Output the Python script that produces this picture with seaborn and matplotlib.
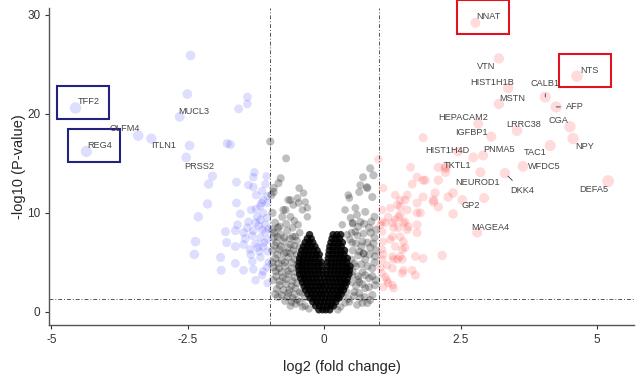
import matplotlib
matplotlib.use('Agg')
import matplotlib.pyplot as plt
import matplotlib.patches as mpatches
import numpy as np
import pandas as pd
import seaborn as sns

# labelled genes (log2 fold change, -log10 p)
down_genes = ['TFF2', 'REG4', 'OLFM4', 'ITLN1', 'MUCL3', 'PRSS2']
down_lfc = [-4.56, -4.36, -3.41, -3.17, -2.65, -2.53]
down_logp = [20.6, 16.2, 17.8, 17.5, 19.7, 15.6]

up_genes = ['NNAT', 'VTN', 'HIST1H1B', 'MSTN', 'CALB1', 'NTS', 'AFP', 'CGA',
            'LRRC38', 'HEPACAM2', 'IGFBP1', 'HIST1H4D', 'PNMA5', 'TAC1', 'NPY',
            'WFDC5', 'TKTL1', 'NEUROD1', 'DKK4', 'DEFA5', 'GP2', 'MAGEA4']
up_lfc = [2.77, 3.20, 3.37, 3.20, 4.05, 4.63, 4.25, 4.50,
          3.53, 2.82, 3.06, 2.45, 2.91, 4.14, 4.56,
          3.64, 2.23, 2.86, 3.31, 5.20, 2.93, 2.80]
up_logp = [29.2, 25.6, 22.6, 21.0, 21.7, 23.8, 20.7, 18.7,
           18.3, 19.0, 17.7, 16.2, 15.8, 16.8, 17.5,
           14.7, 14.7, 14.1, 14.0, 13.2, 11.5, 8.0]

# where the labels sit (data coords)
down_text = [(-4.32, 21.2), (-4.12, 16.8), (-3.66, 18.5), (-2.95, 16.8),
             (-2.40, 20.2), (-2.29, 14.7)]
up_text = [(3.00, 29.8), (2.97, 24.8), (3.08, 23.2), (3.44, 21.6), (4.05, 23.1),
           (4.85, 24.4), (4.60, 20.7), (4.30, 19.3), (3.66, 18.9), (2.55, 19.6),
           (2.69, 18.1), (2.25, 16.3), (3.21, 16.4), (3.86, 16.1), (4.78, 16.7),
           (4.03, 14.7), (2.44, 14.8), (2.80, 13.1), (3.63, 12.3), (4.93, 12.4),
           (2.69, 10.7), (3.04, 8.5)]
with_segment = ['CALB1', 'AFP', 'DKK4']
boxed = {'TFF2': 'navy', 'REG4': 'navy', 'NNAT': 'red', 'NTS': 'red'}

# other significant down genes
blue_lfc = [-2.45, -2.51, -1.41, -1.41, -1.57, -1.78, -1.72, -2.47,
            -2.05, -2.12, -1.61, -1.28, -1.30, -1.06, -1.39, -1.30, -1.14, -1.25,
            -1.04, -1.12, -2.14, -1.61, -1.17, -1.04, -1.34, -1.25, -1.54, -1.12,
            -2.31, -1.23, -1.17, -1.39, -1.26, -1.59, -1.08, -1.41, -1.30, -1.14,
            -1.81, -1.63, -1.48, -1.08, -1.32, -1.17, -1.03, -2.36, -1.79, -1.48,
            -1.26, -1.12, -1.63, -1.36, -1.19, -1.04, -2.38, -1.90, -1.63, -1.17,
            -1.32, -1.89, -1.48, -1.30, -1.14, -1.26, -1.04, -1.12,
            -1.05, -1.10, -1.02, -1.20, -1.15, -1.08, -1.02, -1.22, -1.05, -1.35, -1.45]
blue_logp = [25.9, 22.0, 21.7, 21.0, 20.5, 17.0, 16.9, 16.8,
             13.7, 12.9, 13.1, 14.1, 13.6, 13.7, 12.8, 12.6, 12.2, 11.8,
             11.7, 11.3, 10.9, 11.0, 10.7, 11.0, 10.3, 10.4, 9.9, 10.0,
             9.6, 9.6, 9.3, 9.1, 9.0, 8.8, 8.8, 8.5, 8.2, 8.3,
             8.1, 8.2, 8.0, 8.0, 7.7, 7.5, 7.3, 7.1, 7.0, 6.8,
             6.9, 6.6, 6.6, 6.3, 6.1, 6.1, 5.8, 5.5, 4.9, 5.5,
             5.1, 4.2, 4.2, 4.3, 3.7, 3.2, 2.9, 4.1,
             9.5, 7.0, 5.0, 8.7, 11.0, 12.9, 8.4, 6.5, 4.5, 5.8, 7.4]

# other significant up genes
red_lfc = [0.99, 1.08, 1.30, 1.39, 1.06, 1.34, 1.17, 1.39, 1.06, 1.25, 1.36, 1.48,
           1.06, 1.25, 1.39, 1.08, 1.30, 1.06, 1.43, 1.25, 1.06, 1.34, 1.15, 1.25,
           1.43, 1.06, 1.15, 1.25, 1.08, 1.03, 1.27, 1.45, 1.70, 1.52, 1.70, 1.45,
           1.21, 1.48, 1.08, 1.27, 1.43, 1.67, 1.81, 2.16, 1.61, 1.67, 1.17, 1.27,
           1.03, 1.61, 1.81, 2.03, 1.81, 1.70, 2.00, 2.09, 2.36, 2.36, 1.48, 1.52,
           1.70, 1.36, 1.54, 1.39, 1.45, 1.12, 1.81, 1.58, 1.70, 1.85, 2.22, 2.09,
           2.09, 2.22, 1.52, 2.00, 2.27, 2.53, 2.73, 1.39, 1.21, 1.76, 1.30, 1.12]
red_logp = [15.4, 12.5, 11.8, 11.3, 10.3, 10.8, 9.6, 9.8, 9.1, 9.0, 8.5, 9.1,
            8.1, 7.6, 7.6, 7.1, 6.6, 6.3, 6.3, 5.6, 5.3, 5.3, 4.7, 4.4,
            3.9, 3.9, 3.2, 2.7, 2.5, 8.8, 8.5, 9.0, 8.8, 8.3, 8.0, 7.1,
            7.3, 6.5, 5.8, 5.3, 5.3, 5.6, 5.4, 5.7, 4.2, 3.7, 2.9, 2.4,
            4.5, 12.9, 13.3, 12.0, 11.6, 11.0, 11.1, 10.6, 12.0, 9.9, 11.3, 10.3,
            10.0, 9.6, 8.6, 5.6, 4.2, 3.5, 17.6, 14.6, 13.6, 13.3, 14.5, 13.3,
            14.6, 14.1, 11.8, 11.3, 11.6, 11.3, 15.6, 10.6, 10.5, 10.0, 9.3, 9.0]

# non-significant genes, scattered upper part of the cloud
grey_lfc = [-0.99, -0.70, -0.80, -0.84, -0.93, -0.46, -0.38, -0.93, -0.62, -0.57,
            -0.47, -0.75, -0.31, -0.77, -0.66, -0.49, -0.35, -0.71, -0.40, -0.62,
            -0.31, -0.90, -0.48, -0.97, -0.95, -0.85, -0.55,
            -0.92, -0.80, -0.68, -0.58, -0.45, -0.88, -0.75, -0.62, -0.50, -0.95,
            -0.82, -0.70, -0.57, -0.45, -0.90, -0.78, -0.66, -0.54, -0.93, -0.83,
            -0.72, -0.60, -0.50, -0.88, -0.76, -0.65, -0.55, -0.82, -0.70, -0.60,
            -0.50, -0.90, -0.78, -0.66, -0.55, -0.45, -0.72, -0.60, -0.50, -0.85,
            0.84, 0.71, 0.90, 0.66, 0.78, 0.44, 0.79, 0.64, 0.46, 0.88, 0.38, 0.57,
            0.75, 0.92, 0.48, 0.66, 0.33, 0.82, 0.57, 0.42, 0.92, 0.70, 0.51, 0.84,
            0.64, 0.93, 0.75, 0.55, 0.88, 0.70, 0.51, 0.82, 0.64, 0.93, 0.75, 0.55,
            0.88, 0.66, 0.46, 0.79, 0.60, 0.52, 0.72, 0.62]
grey_logp = [17.2, 15.5, 13.5, 13.0, 12.5, 12.5, 12.0, 12.1, 11.3, 10.8,
             11.0, 10.3, 10.5, 9.6, 11.3, 11.5, 11.1, 10.3, 10.3, 9.6,
             9.6, 9.0, 8.8, 11.8, 10.0, 8.5, 9.2,
             8.0, 7.8, 8.2, 7.6, 8.0, 7.0, 7.1, 6.8, 7.2, 6.2,
             6.3, 6.0, 6.2, 6.5, 5.4, 5.2, 5.5, 5.3, 4.5, 4.4,
             4.6, 4.4, 4.7, 3.6, 3.5, 3.8, 3.5, 2.7, 2.8, 2.6,
             2.9, 1.8, 1.7, 1.9, 1.8, 2.0, 1.1, 1.0, 1.2, 1.5,
             14.5, 13.6, 13.8, 12.8, 12.6, 11.8, 12.5, 12.1, 11.5, 11.6, 10.3, 10.5,
             10.1, 9.6, 9.5, 9.1, 8.8, 8.5, 8.1, 7.8, 7.5, 7.1, 7.0, 6.5,
             6.1, 5.6, 5.3, 4.9, 4.4, 4.0, 3.7, 3.4, 3.0, 2.7, 2.4, 2.0,
             1.7, 1.4, 1.0, 0.9, 9.8, 8.9, 5.9, 3.3]

# non-significant genes, the grey flanks of the V
flank_lfc = [-0.93, -0.86, -0.73, -0.63, -0.53, -0.91, -0.80, -0.67, -0.55, -0.86,
             -0.74, -0.62, -0.51, -0.95, -0.84, -0.72, -0.60, -0.52, -0.89, -0.78,
             -0.66, -0.94, -0.82, -0.70, -0.58, -0.87, -0.75, -0.64, -0.53, -0.68,
             -0.58, -0.52, -0.62, -0.95, -0.82, -0.70, -0.58,
             -0.35, -0.28, -0.45, -0.40, -0.42, -0.36,
             0.52, 0.62, 0.73, 0.86, 0.50, 0.61, 0.72, 0.85, 0.95, 0.47,
             0.58, 0.68, 0.79, 0.90, 0.52, 0.62, 0.72, 0.83, 0.95, 0.50,
             0.58, 0.68, 0.79, 0.92, 0.52, 0.62, 0.75, 0.88, 0.50, 0.58,
             0.70, 0.82, 0.95, 0.54, 0.64, 0.74, 0.60, 0.70, 0.84,
             0.30, 0.38, 0.25, 0.45, 0.41, 0.34]
flank_logp = [7.5, 7.6, 7.5, 7.4, 7.6, 6.7, 6.6, 6.5, 6.7, 5.8,
              5.9, 5.9, 5.8, 5.0, 4.9, 5.0, 5.0, 4.0, 4.1, 4.0,
              4.1, 3.2, 3.1, 3.3, 3.1, 2.3, 2.2, 2.2, 2.4, 1.5,
              1.4, 0.8, 0.6, 8.3, 8.6, 8.9, 8.5,
              0.6, 0.3, 1.0, 0.5, 1.9, 1.4,
              9.0, 8.6, 8.9, 9.1, 8.0, 7.7, 7.9, 8.0, 8.3, 7.3,
              6.9, 6.6, 7.0, 6.9, 6.2, 5.7, 5.9, 5.8, 6.2, 5.3,
              4.6, 4.8, 4.6, 5.0, 4.1, 3.6, 3.7, 3.6, 3.0, 2.6,
              2.8, 2.5, 3.2, 1.6, 1.9, 1.5, 0.7, 0.9, 1.2,
              0.5, 0.9, 0.2, 1.3, 2.0, 1.6]

# non-significant genes, dense V-shaped core (one list of fold changes per p-level)
core_logp = [0.2, 0.6, 1.0, 1.4, 1.8, 2.2, 2.6, 3.0, 3.4, 3.8, 4.2, 4.6, 5.0,
             5.4, 5.8, 6.2, 6.6, 7.0, 7.4, 7.8]
core_lfc = [
    [-0.10, -0.03, 0.03, 0.10],
    [-0.16, -0.09, -0.02, 0.05, 0.12, 0.17],
    [-0.21, -0.14, -0.07, 0.00, 0.07, 0.14, 0.21],
    [-0.26, -0.19, -0.12, -0.05, 0.02, 0.09, 0.16, 0.23, 0.27],
    [-0.30, -0.23, -0.16, -0.09, -0.03, 0.04, 0.11, 0.18, 0.25, 0.31],
    [-0.34, -0.27, -0.20, -0.13, -0.06, 0.01, 0.08, 0.15, 0.22, 0.29, 0.35],
    [-0.37, -0.30, -0.23, -0.16, -0.09, -0.03, 0.04, 0.11, 0.18, 0.25, 0.32, 0.38],
    [-0.40, -0.33, -0.26, -0.19, -0.12, -0.05, 0.02, 0.09, 0.16, 0.23, 0.30, 0.37, 0.41],
    [-0.43, -0.36, -0.29, -0.22, -0.15, -0.08, 0.00, 0.07, 0.14, 0.21, 0.28, 0.35, 0.42],
    [-0.45, -0.38, -0.31, -0.24, -0.17, -0.10, -0.03, 0.04, 0.11, 0.18, 0.25, 0.32,
     0.39, 0.45],
    [-0.46, -0.39, -0.32, -0.25, -0.18, -0.11, -0.04, 0.05, 0.12, 0.19, 0.26, 0.33,
     0.40, 0.46],
    [-0.47, -0.40, -0.33, -0.26, -0.19, -0.12, -0.05, 0.06, 0.13, 0.20, 0.27, 0.34,
     0.41, 0.47],
    [-0.46, -0.39, -0.32, -0.25, -0.18, -0.11, -0.05, 0.06, 0.13, 0.20, 0.27, 0.34, 0.41],
    [-0.45, -0.38, -0.31, -0.24, -0.17, -0.10, 0.07, 0.14, 0.21, 0.28, 0.35, 0.42],
    [-0.43, -0.36, -0.29, -0.22, -0.15, -0.09, 0.08, 0.15, 0.22, 0.29, 0.36],
    [-0.41, -0.34, -0.27, -0.20, -0.13, 0.09, 0.16, 0.23, 0.30, 0.37],
    [-0.38, -0.31, -0.24, -0.17, 0.10, 0.17, 0.24, 0.31],
    [-0.35, -0.28, -0.21, 0.12, 0.19, 0.26, 0.33],
    [-0.31, -0.24, 0.14, 0.21, 0.28],
    [-0.27, 0.16, 0.23, 0.30],
]

core = pd.DataFrame([(x, y) for y, xs in zip(core_logp, core_lfc) for x in xs],
                    columns=['lfc', 'logp'])
grey = pd.DataFrame({'lfc': grey_lfc + flank_lfc, 'logp': grey_logp + flank_logp})
down = pd.DataFrame({'lfc': blue_lfc + down_lfc, 'logp': blue_logp + down_logp})
up = pd.DataFrame({'lfc': red_lfc + up_lfc, 'logp': red_logp + up_logp})
for d in (core, grey, down, up):
    d['mag'] = d['lfc'].abs()

sns.set_style('ticks')
plt.rcParams['font.family'] = ['Liberation Sans', 'DejaVu Sans']

fig = plt.figure(figsize=(6.4, 3.76), dpi=100)
ax = fig.add_axes([0.077, 0.136, 0.914, 0.843])

common = dict(x='lfc', y='logp', size='mag', sizes=(26, 75), size_norm=(0, 5.3),
              linewidth=0, edgecolor='none', legend=False, ax=ax)
sns.scatterplot(data=grey, color='black', alpha=0.25, **common)
sns.scatterplot(data=core, color='black', alpha=0.8, **common)
sns.scatterplot(data=down, color='#0000ff', alpha=0.13, **common)
sns.scatterplot(data=up, color='#ff0000', alpha=0.14, **common)

ref_kw = dict(color='#555555', lw=0.7, ls=(0, (4, 2, 1, 2)), zorder=0)
ax.axvline(-1, **ref_kw)
ax.axvline(1, **ref_kw)
ax.axhline(-np.log10(0.05), **ref_kw)

genes = down_genes + up_genes
gx = down_lfc + up_lfc
gy = down_logp + up_logp
txt = down_text + up_text
for g, px, py, (tx, ty) in zip(genes, gx, gy, txt):
    if g in with_segment:
        ax.annotate(g, xy=(px, py), xytext=(tx, ty), fontsize=6.6, color='#444444',
                    ha='center', va='center',
                    arrowprops=dict(arrowstyle='-', lw=0.6, color='#333333',
                                    shrinkA=2, shrinkB=3))
    else:
        ax.text(tx, ty, g, fontsize=6.6, color='#444444', ha='center', va='center')
    if g in boxed:
        ax.add_patch(mpatches.Rectangle((px - 0.33, ty - 1.7), 0.95, 3.35, fill=False,
                                        lw=1.5, clip_on=False,
                                        edgecolor='#22227f' if boxed[g] == 'navy' else '#e0141e'))

ax.set_xlim(-5.04, 5.68)
ax.set_ylim(-1.31, 30.7)
ax.set_xticks([-5, -2.5, 0, 2.5, 5])
ax.set_xticklabels(['-5', '-2.5', '0', '2.5', '5'])
ax.set_yticks([0, 10, 20, 30])
ax.tick_params(labelsize=8.5, colors='#333333', length=3, width=0.8)
for s in ('left', 'bottom'):
    ax.spines[s].set_color('#555555')
    ax.spines[s].set_linewidth(1.0)
sns.despine(ax=ax)
ax.set_xlabel('log2 (fold change)', fontsize=10.5, labelpad=10)
ax.set_ylabel('-log10 (P-value)', fontsize=10.5, labelpad=1)

fig.savefig('out.png', dpi=100)
